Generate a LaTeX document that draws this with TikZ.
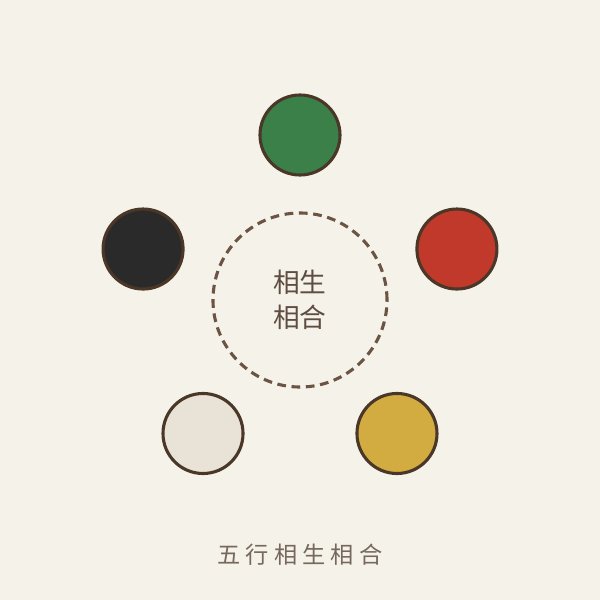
\documentclass[tikz,border=0pt]{standalone}
\usepackage{fontspec}
\newfontfamily\cjk{Noto Sans CJK SC}
\definecolor{paper}{HTML}{F5F2EA}
\definecolor{rim}{HTML}{4A3728}
\definecolor{ink}{HTML}{5E4D40}
\definecolor{dash}{HTML}{6B5444}
\definecolor{wood}{HTML}{3A8048}
\definecolor{fire}{HTML}{C0392B}
\definecolor{earth}{HTML}{D2AC40}
\definecolor{metal}{HTML}{E8E3D6}
\definecolor{water}{HTML}{2A2A2A}
\tikzset{
  element/.style={circle, draw=rim, line width=2.2pt, minimum size=2cm, inner sep=0pt},
  hub/.style={circle, draw=dash, line width=2.2pt, dash pattern=on 6.2pt off 4pt, minimum size=4.35cm, inner sep=0pt}
}
\begin{document}
\begin{tikzpicture}[x=0.025cm, y=0.025cm]
            \fill[paper] (-300,-300) rectangle (300,300);
            \useasboundingbox (-300,-300) rectangle (300,300);
            \node[hub] (hub) at (0,0) {};
            \node[text=ink, align=center, font=\cjk\fontsize{19}{25}\selectfont] (hubtext) at (0,0) {相生\\相合};
            \foreach \name/\ang/\col in {wood/90/wood, fire/18/fire, earth/-54/earth, metal/-126/metal, water/162/water} {
                \node[element, fill=\col] (\name) at (\ang:165) {};
            }
            \node[text=ink!85, font=\cjk\fontsize{16.5}{18}\selectfont\addfontfeature{LetterSpace=22}] (title) at (0,-255) {五行相生相合};
        \end{tikzpicture}
\end{document}
